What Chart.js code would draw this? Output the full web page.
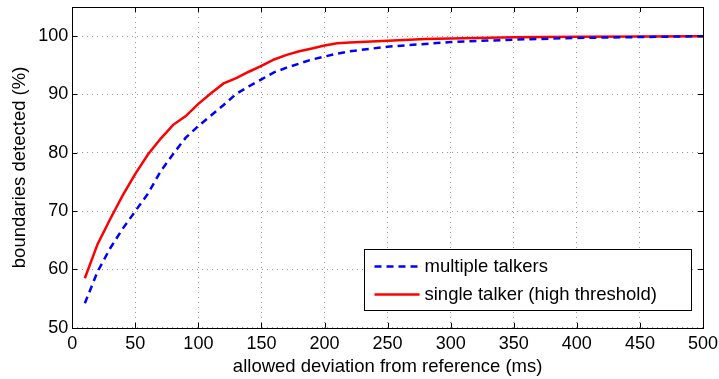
<!DOCTYPE html>
<html><head><meta charset="utf-8">
<script src="https://cdn.jsdelivr.net/npm/chart.js@4"></script>
<style>html,body{margin:0;padding:0;background:#fff}#wrap{width:719px;height:379px;position:relative}</style>
</head><body><div id="wrap"><canvas id="c" width="719" height="379"></canvas></div>
<script>
const xMultiple = [10,20,30,40,50,60,70,80,90,100,110,120,130,140,150,160,170,180,190,200,210,220,250,300,350,400,450,500];
const yMultiple = [54.2,59.6,63.6,67.0,70.0,73.0,76.8,79.8,82.6,84.6,86.4,88.2,90.1,91.4,92.6,93.8,94.6,95.3,96.0,96.5,97.0,97.4,98.2,99.0,99.4,99.7,99.85,100];
const xSingle = [10,20,30,40,50,60,70,80,90,100,110,120,130,140,150,160,170,180,190,200,210,220,250,280,300,350,400,450,500];
const ySingle = [58.5,64.3,68.6,72.7,76.4,79.7,82.4,84.8,86.3,88.4,90.2,91.9,92.8,93.9,94.9,96.0,96.8,97.4,97.9,98.4,98.8,98.9,99.2,99.5,99.6,99.8,99.9,99.95,100];
const xTicks = [0,50,100,150,200,250,300,350,400,450,500];
const yTicks = [50,60,70,80,90,100];
const seriesNames = ['multiple talkers','single talker (high threshold)'];

const FONT = '"Liberation Sans", Arial, Helvetica, sans-serif';
const boxPlugin = {
  id: 'boxPlugin',
  afterDraw(chart) {
    const ctx = chart.ctx, a = chart.chartArea;
    const xs = chart.scales.x, ys = chart.scales.y;
    ctx.save();
    ctx.strokeStyle = '#000'; ctx.lineWidth = 1; ctx.setLineDash([]);
    ctx.strokeRect(Math.round(a.left)+0.5, Math.round(a.top)+0.5, Math.round(a.right-a.left), Math.round(a.bottom-a.top));
    const tl = 5;
    ctx.beginPath();
    xTicks.forEach(v => {
      const px = Math.round(xs.getPixelForValue(v)) + 0.5;
      ctx.moveTo(px, a.bottom); ctx.lineTo(px, a.bottom - tl);
      ctx.moveTo(px, a.top); ctx.lineTo(px, a.top + tl);
    });
    yTicks.forEach(v => {
      const py = Math.round(ys.getPixelForValue(v)) + 0.5;
      ctx.moveTo(a.left, py); ctx.lineTo(a.left + tl, py);
      ctx.moveTo(a.right, py); ctx.lineTo(a.right - tl, py);
    });
    ctx.stroke();
    // legend
    const lw = 327, lh = 61;
    const lx = Math.round(a.right - 12 - lw) + 0.5, ly = Math.round(a.bottom - 18 - lh) + 0.5;
    ctx.fillStyle = '#fff';
    ctx.fillRect(lx, ly, lw, lh);
    ctx.strokeStyle = '#000'; ctx.lineWidth = 1;
    ctx.strokeRect(lx, ly, lw, lh);
    const ds = chart.data.datasets;
    ds.forEach((d, i) => {
      const cy = ly + 17 + i * 28;
      ctx.strokeStyle = d.borderColor; ctx.lineWidth = d.borderWidth;
      ctx.setLineDash(d.borderDash || []);
      ctx.beginPath(); ctx.moveTo(lx + 10, cy); ctx.lineTo(lx + 55, cy); ctx.stroke();
      ctx.setLineDash([]);
      ctx.fillStyle = '#000'; ctx.font = '18.5px ' + FONT; ctx.textBaseline = 'middle';
      ctx.fillText(d.label, lx + 60, cy);
    });
    ctx.restore();
  }
};

new Chart(document.getElementById('c'), {
  type: 'line',
  data: {
    datasets: [
      { label: seriesNames[0], data: xMultiple.map((x,i)=>({x, y:yMultiple[i]})), borderColor:'#0000ff', borderWidth:2.5, borderDash:[7,5], pointRadius:0, fill:false, tension:0 },
      { label: seriesNames[1], data: xSingle.map((x,i)=>({x, y:ySingle[i]})), borderColor:'#ff0000', borderWidth:2.5, pointRadius:0, fill:false, tension:0 }
    ]
  },
  options: {
    responsive:false, animation:false, devicePixelRatio:1,
    layout:{ padding:{ left:9, right:16, top:7, bottom:1 } },
    plugins:{ legend:{display:false}, tooltip:{enabled:false} },
    scales:{
      x:{ type:'linear', min:0, max:500,
        afterBuildTicks(s){ s.ticks = xTicks.map(v=>({value:v})); },
        afterFit(s){ s.paddingLeft = 0; s.paddingRight = 0; },
        ticks:{ color:'#000', font:{family:FONT,size:18,lineHeight:1.0}, padding:7, maxRotation:0, autoSkip:false },
        grid:{ color:'#999', lineWidth:1, drawTicks:false },
        border:{ display:false, dash:[1,4] },
        title:{ display:true, text:'allowed deviation from reference (ms)', color:'#000', font:{family:FONT,size:18.5}, padding:{top:-4,bottom:0} }
      },
      y:{ type:'linear', min:50, max:105,
        afterBuildTicks(s){ s.ticks = yTicks.map(v=>({value:v})); },
        afterFit(s){ s.paddingTop = 0; s.paddingBottom = 0; },
        ticks:{ color:'#000', font:{family:FONT,size:18}, padding:4 },
        grid:{ color:'#999', lineWidth:1, drawTicks:false },
        border:{ display:false, dash:[1,4] },
        title:{ display:true, text:'boundaries detected (%)', color:'#000', font:{family:FONT,size:18.5}, padding:{top:0,bottom:3} }
      }
    }
  },
  plugins:[boxPlugin]
});
</script></body></html>
